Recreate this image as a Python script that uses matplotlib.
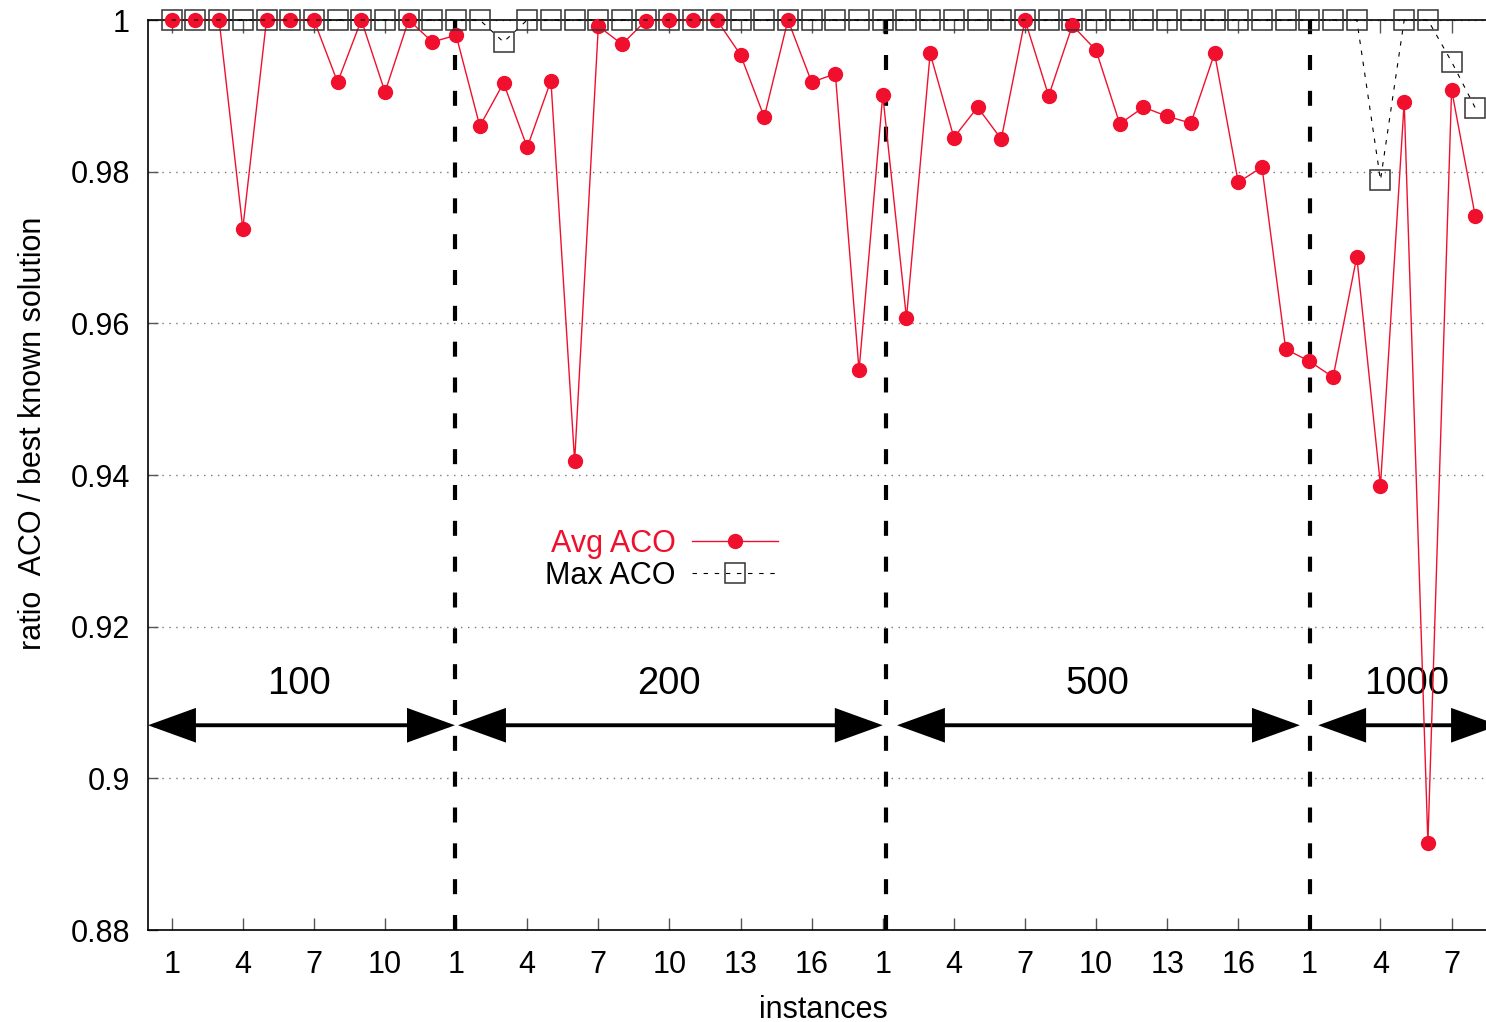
import matplotlib
matplotlib.use("Agg")
import matplotlib.pyplot as plt
from matplotlib.patches import FancyArrowPatch, ArrowStyle
import numpy as np

plt.rcParams['font.family'] = ['Liberation Sans', 'DejaVu Sans']

# ---------------- data ----------------
group_names = ['100', '200', '500', '1000']
group_sizes = [12, 18, 18, 8]

avg_100 = [1.0, 1.0, 1.0, 0.9725, 1.0, 1.0, 1.0, 0.9918, 1.0, 0.9905, 1.0, 0.9971]
avg_200 = [0.9980, 0.9860, 0.9917, 0.9832, 0.9920, 0.9418, 0.9992, 0.9968, 0.9999,
           1.0, 1.0, 1.0, 0.9954, 0.9872, 1.0, 0.9918, 0.9929, 0.9538]
avg_500 = [0.9901, 0.9607, 0.9956, 0.9845, 0.9885, 0.9843, 1.0, 0.9900, 0.9993,
           0.9960, 0.9863, 0.9885, 0.9873, 0.9864, 0.9956, 0.9786, 0.9806, 0.9566]
avg_1000 = [0.9550, 0.9529, 0.9688, 0.9386, 0.9892, 0.8915, 0.9908, 0.9741]

max_100 = [1.0] * 12
max_200 = [1.0, 1.0, 0.9971] + [1.0] * 15
max_500 = [1.0] * 18
max_1000 = [1.0, 1.0, 1.0, 0.9789, 1.0, 1.0, 0.9945, 0.9884]

avg_all = avg_100 + avg_200 + avg_500 + avg_1000
max_all = max_100 + max_200 + max_500 + max_1000
x = np.arange(1, len(avg_all) + 1)

# tick labels: instance number within each group, every third
xtick_pos = []
xtick_lab = []
start = 1
for n in group_sizes:
    for k in range(1, n + 1, 3):
        xtick_pos.append(start + k - 1)
        xtick_lab.append(str(k))
    start += n

yticks = [0.88, 0.9, 0.92, 0.94, 0.96, 0.98, 1.0]
ytick_labels = ['0.88', '0.9', '0.92', '0.94', '0.96', '0.98', '1']

# ---------------- layout ----------------
W, H = 1486, 1022
fig = plt.figure(figsize=(W / 100, H / 100), dpi=100)
ax_l, ax_r, ax_t, ax_b = 148, 1499, 20, 930
ax = fig.add_axes([ax_l / W, 1 - ax_b / H, (ax_r - ax_l) / W, (ax_b - ax_t) / H])
ax.set_xlim(0, 57)
ax.set_ylim(0.88, 1.0)

RED = '#f0102e'
FS = 22

# grid
for yv in yticks:
    ax.axhline(yv, color='#777777', lw=1.0, ls=(0, (1, 4)), zorder=1)

# separators
sep_x = [12.95, 31.12, 49.03]
for sx in sep_x:
    ax.plot([sx, sx], [0.88, 1.0], color='black', lw=3.0,
            ls=(0, (3.6, 5.0)), dash_capstyle='butt', zorder=2, clip_on=False)

# group arrows and labels
arrow_spans = [(0.0, 12.95), (13.08, 31.0), (31.6, 48.6), (49.37, 57.0)]
label_x = [6.37, 21.98, 40.04, 53.12]
arrow_y = 0.907
style = ArrowStyle('<|-|>', head_length=29, head_width=10.5)
for (a, b), lx, name in zip(arrow_spans, label_x, group_names):
    arr = FancyArrowPatch((a, arrow_y), (b, arrow_y), arrowstyle=style,
                          mutation_scale=1, color='black', lw=2.8,
                          shrinkA=0, shrinkB=0, joinstyle='miter',
                          capstyle='butt', zorder=3, clip_on=False)
    ax.add_patch(arr)
    ax.text(lx, 0.9111, name, ha='center', va='baseline', fontsize=27.5, zorder=3)

# data
ax.plot(x, avg_all, color=RED, lw=1.0, marker='o', markersize=10,
        markerfacecolor=RED, markeredgecolor=RED, label='Avg ACO', zorder=4,
        clip_on=False)
ax.plot(x, max_all, color='black', lw=0.8, ls=(0, (4, 6)), marker='s',
        markersize=15, markerfacecolor='none', markeredgecolor='#333333',
        markeredgewidth=1.1, label='Max ACO', zorder=5, clip_on=False)

# axes styling
ax.set_xticks(xtick_pos)
ax.set_xticklabels(xtick_lab)
ax.set_yticks(yticks)
ax.set_yticklabels(ytick_labels)
ax.tick_params(axis='x', direction='in', length=9, width=1, color='#555555',
               labelsize=FS, pad=14.5, top=True)
ax.tick_params(axis='y', direction='in', length=7, width=1, color='#555555',
               labelsize=FS, pad=13, right=True)
for sp in ax.spines.values():
    sp.set_linewidth(1.2)
    sp.set_color('black')

ax.set_xlabel('instances', fontsize=FS)
ax.xaxis.set_label_coords(0.5, -0.071)
ax.set_ylabel('ratio  ACO / best known solution', fontsize=FS)
ax.yaxis.set_label_coords(-0.074, 0.546)

leg = ax.legend(loc='upper right', bbox_to_anchor=(778 / W, 1 - 529 / H),
                bbox_transform=fig.transFigure, frameon=False, markerfirst=False,
                fontsize=FS, handlelength=2.8, handletextpad=0.55,
                borderpad=0, borderaxespad=0, labelspacing=0.05, numpoints=1)
leg.get_texts()[0].set_color(RED)
leg.get_texts()[1].set_color('black')

fig.savefig('out.png', dpi=100)
